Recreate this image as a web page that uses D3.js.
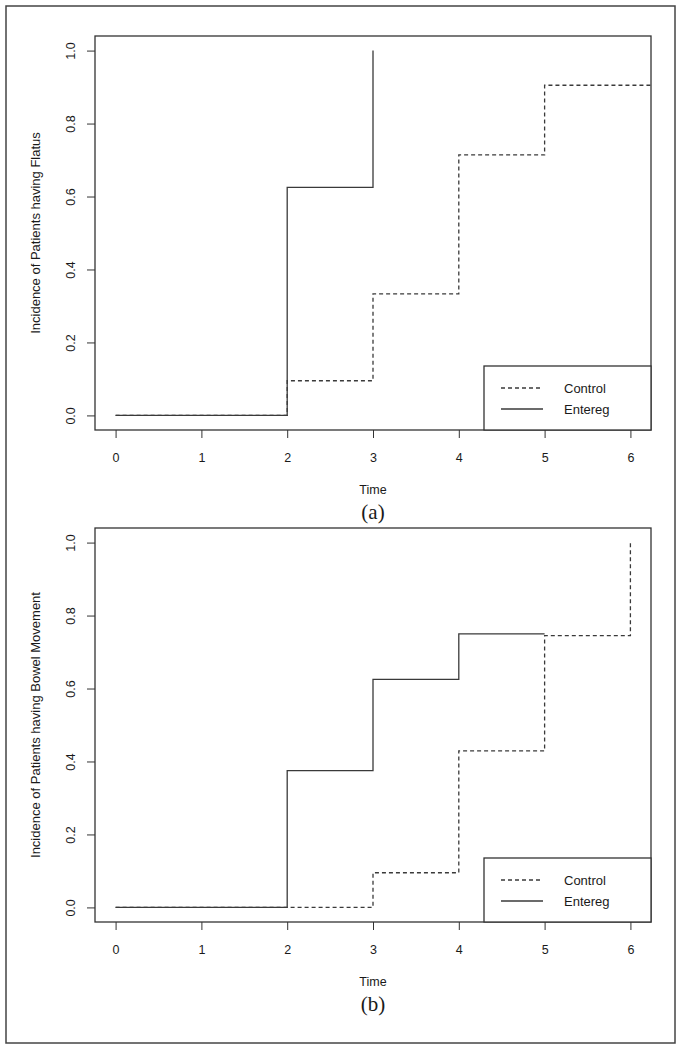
<!DOCTYPE html>
<html><head><meta charset="utf-8">
<script src="https://cdn.jsdelivr.net/npm/d3@7"></script>
<style>body{margin:0;background:#fff}</style>
</head><body>
<script>
// ---- data ----
const xTicks = [0,1,2,3,4,5,6];
const yTicks = [0.0,0.2,0.4,0.6,0.8,1.0];
const seriesNames = ["Control","Entereg"];

const flatusControlTimes = [0,2,3,4,5];
const flatusControlValues = [0,0.095,0.333,0.714,0.905];
const flatusEnteregTimes = [0,2,3];
const flatusEnteregValues = [0,0.625,1.0];

const bowelControlTimes = [0,3,4,5,6];
const bowelControlValues = [0,0.095,0.429,0.745,1.0];
const bowelEnteregTimes = [0,2,3,4,5];
const bowelEnteregValues = [0,0.375,0.625,0.75,0.75];

const panels = [
  {label:"(a)", ylab:"Incidence of Patients having Flatus",
   control:{t:flatusControlTimes, v:flatusControlValues, extend:true},
   entereg:{t:flatusEnteregTimes, v:flatusEnteregValues, extend:false}},
  {label:"(b)", ylab:"Incidence of Patients having Bowel Movement",
   control:{t:bowelControlTimes, v:bowelControlValues, extend:false},
   entereg:{t:bowelEnteregTimes, v:bowelEnteregValues, extend:false}}
];

// ---- layout ----
const W = 683, H = 1050;
const svg = d3.select("body").append("svg").attr("width",W).attr("height",H);
const ink = "#333";
const txt = "#1a1a1a";
svg.append("rect").attr("x",6).attr("y",6).attr("width",669).attr("height",1037)
  .attr("fill","none").attr("stroke","#444").attr("stroke-width",1.5);

const left = 95, right = 651;
const tops = [36, 528];
const plotH = 394;
const x = d3.scaleLinear().domain([-0.24,6.24]).range([left,right]);
const font = "'Liberation Sans', Arial, sans-serif";

panels.forEach((p,i)=>{
  const top = tops[i], bottom = top+plotH;
  const y = d3.scaleLinear().domain([-0.04,1.04]).range([bottom,top]);
  const g = svg.append("g");

  // x axis
  const xa = g.append("g").attr("transform",`translate(0,${bottom})`)
    .call(d3.axisBottom(x).tickValues(xTicks).tickSize(8).tickPadding(15).tickFormat(d3.format("d")));
  xa.select(".domain").remove();
  xa.selectAll("line").attr("stroke",ink);
  xa.selectAll("text").attr("font-family",font).attr("font-size",12.5).attr("fill",txt);

  // y axis
  const ya = g.append("g").attr("transform",`translate(${left},0)`)
    .call(d3.axisLeft(y).tickValues(yTicks).tickSize(8).tickFormat(d3.format(".1f")));
  ya.select(".domain").remove();
  ya.selectAll("line").attr("stroke",ink);
  ya.selectAll("text").remove();
  ya.selectAll(".tick").append("text")
    .attr("transform","translate(-24,0) rotate(-90)")
    .attr("text-anchor","middle").attr("dy","0.35em")
    .attr("font-family",font).attr("font-size",12.5).attr("fill",txt)
    .text(d=>d3.format(".1f")(d));

  // box
  g.append("rect").attr("x",left).attr("y",top).attr("width",right-left).attr("height",plotH)
    .attr("fill","none").attr("stroke",ink).attr("stroke-width",1.3);

  // labels
  g.append("text").attr("transform",`translate(40,${(top+bottom)/2}) rotate(-90)`)
    .attr("text-anchor","middle").attr("font-family",font).attr("font-size",13).attr("fill",txt)
    .text(p.ylab);
  g.append("text").attr("x",(left+right)/2).attr("y",bottom+64).attr("text-anchor","middle")
    .attr("font-family",font).attr("font-size",12.5).attr("fill",txt).text("Time");
  g.append("text").attr("x",(left+right)/2).attr("y",bottom+89).attr("text-anchor","middle")
    .attr("font-family","'Liberation Serif', 'Times New Roman', serif").attr("font-size",21).attr("fill",txt).text(p.label);

  const line = d3.line().x(d=>x(d[0])).y(d=>y(d[1])).curve(d3.curveStepAfter);
  function pts(s){
    const a = s.t.map((t,k)=>[t,s.v[k]]);
    if(s.extend) a.push([x.domain()[1], s.v[s.v.length-1]]);
    return a;
  }
  g.append("path").attr("d",line(pts(p.entereg))).attr("fill","none")
    .attr("stroke","#3a3a3a").attr("stroke-width",1.3);
  g.append("path").attr("d",line(pts(p.control))).attr("fill","none")
    .attr("stroke","#3a3a3a").attr("stroke-width",1.3).attr("stroke-dasharray","4,3");

  // legend
  const lx = 484, ly = bottom-64;
  g.append("rect").attr("x",lx).attr("y",ly).attr("width",right-lx).attr("height",64)
    .attr("fill","#fff").attr("stroke",ink).attr("stroke-width",1.3);
  seriesNames.forEach((n,k)=>{
    const yy = ly + 22 + k*21;
    g.append("line").attr("x1",lx+17).attr("x2",lx+59).attr("y1",yy).attr("y2",yy)
      .attr("stroke","#3a3a3a").attr("stroke-width",1.3)
      .attr("stroke-dasharray", k===0 ? "4,3" : null);
    g.append("text").attr("x",lx+80).attr("y",yy).attr("dy","0.35em")
      .attr("font-family",font).attr("font-size",13).attr("fill",txt).text(n);
  });
});
</script>
</body></html>
